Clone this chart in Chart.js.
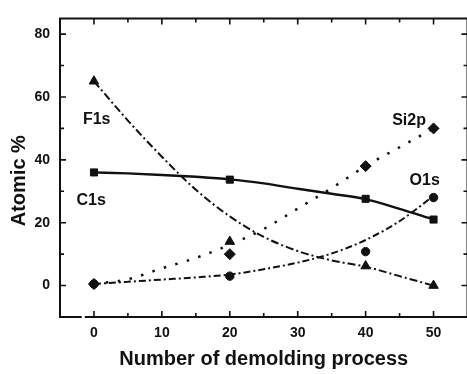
<!DOCTYPE html>
<html><head><meta charset="utf-8">
<script src="https://cdn.jsdelivr.net/npm/chart.js@4.4.1/dist/chart.umd.min.js"></script>
<style>
html,body{margin:0;padding:0;background:#fff;overflow:hidden;}
#wrap{width:467px;height:374px;overflow:hidden;position:relative;background:#fff;}
#wrap canvas{position:absolute;left:0;top:0;}
</style></head><body>
<div id="wrap"><canvas id="c" width="474" height="374" style="width:474px;height:374px"></canvas></div>
<script>
// measured points
const demoldingCounts = [0, 20, 40, 50];
const f1sValues  = [65, 14, 6.2, 0];
const c1sValues  = [36, 33.7, 27.6, 21];
const si2pValues = [0.5, 10, 38, 50];
const o1sValues  = [0.5, 3, 10.8, 28];

// fitted curves
const fitCounts = [0, 5, 10, 15, 20, 25, 30, 35, 40, 45, 50];
const f1sFit  = [65, 52.5, 41, 30.5, 22, 15.5, 11, 8, 6, 3, 0];
const c1sFit  = [36, 35.7, 35.2, 34.6, 33.8, 32.5, 30.8, 29.2, 27.5, 24.4, 21];
const si2pFit = [0.5, 2, 5.5, 8.8, 13, 18, 24.5, 31, 38, 44, 50];
const o1sFit  = [0.5, 1.2, 1.9, 2.6, 3.5, 5.2, 7.3, 10.2, 14.5, 20.5, 28.5];

// axes
const xTickValues  = [0, 10, 20, 30, 40, 50];
const xMinorValues = [5, 15, 25, 35, 45];
const yTickValues  = [0, 20, 40, 60, 80];
const yMinorValues = [10, 30, 50, 70];

// in-plot labels (data coordinates)
const seriesNames = ['F1s', 'C1s', 'Si2p', 'O1s'];
const labelX = [0.4, -0.4, 46.4, 48.7];
const labelY = [52.8, 26.9, 52.5, 33.3];

const FONT = "'Liberation Sans', Arial, Helvetica, sans-serif";
const INK = '#111';

function pts(xs, ys) { return xs.map((x, i) => ({x: x, y: ys[i]})); }

function fitDs(data, dash, width) {
  return { type: 'line', data: data, borderColor: INK, borderWidth: width || 2,
    borderDash: dash, pointRadius: 0, fill: false, cubicInterpolationMode: 'monotone', order: 2 };
}
function markDs(data, style, r) {
  return { type: 'scatter', data: data, showLine: false, pointStyle: style, pointRadius: r,
    pointHoverRadius: r, backgroundColor: INK, borderColor: INK, borderWidth: 1, order: 1 };
}

const framePlugin = {
  id: 'frame',
  afterDatasetsDraw(chart) {
    const {ctx, chartArea: a, scales: {x, y}} = chart;
    ctx.save();
    ctx.strokeStyle = INK;
    ctx.lineWidth = 2;
    ctx.lineCap = 'butt';
    ctx.beginPath();
    ctx.moveTo(a.left, a.bottom + 1); ctx.lineTo(a.left, a.top);
    ctx.lineTo(a.right, a.top); ctx.lineTo(a.right, a.bottom);
    const g1 = x.getPixelForValue(-1.8), g2 = x.getPixelForValue(-1.35);
    ctx.moveTo(a.left - 1, a.bottom); ctx.lineTo(g1, a.bottom);
    ctx.moveTo(g2, a.bottom); ctx.lineTo(a.right, a.bottom);
    ctx.stroke();
    ctx.lineWidth = 1.6;
    ctx.beginPath();
    const tick = (vals, len) => {
      vals.forEach(v => {
        const px = x.getPixelForValue(v);
        ctx.moveTo(px, a.bottom); ctx.lineTo(px, a.bottom - len);
        ctx.moveTo(px, a.top); ctx.lineTo(px, a.top + len);
      });
    };
    const ytick = (vals, len) => {
      vals.forEach(v => {
        const py = y.getPixelForValue(v);
        ctx.moveTo(a.left, py); ctx.lineTo(a.left + len, py);
        ctx.moveTo(a.right, py); ctx.lineTo(a.right - len, py);
      });
    };
    tick(xTickValues, 6); tick(xMinorValues, 4);
    ytick(yTickValues, 6); ytick(yMinorValues, 4);
    ctx.stroke();

    ctx.fillStyle = INK;
    ctx.font = 'bold 16px ' + FONT;
    ctx.textAlign = 'center';
    ctx.textBaseline = 'middle';
    seriesNames.forEach((n, i) => {
      ctx.fillText(n, x.getPixelForValue(labelX[i]), y.getPixelForValue(labelY[i]));
    });

    ctx.font = 'bold 20px ' + FONT;
    ctx.translate(a.left - 40.5, (a.top + a.bottom) / 2 + 13);
    ctx.rotate(-Math.PI / 2);
    ctx.fillText('Atomic %', 0, 0);
    ctx.restore();
  }
};

new Chart(document.getElementById('c'), {
  data: {
    datasets: [
      fitDs(pts(fitCounts, f1sFit), [8, 3, 2, 3], 2),
      fitDs(pts(fitCounts, c1sFit), [], 2.4),
      fitDs(pts(fitCounts, si2pFit), [2.5, 9.5], 2.5),
      fitDs(pts(fitCounts, o1sFit), [7, 3, 2, 3], 2),
      markDs(pts(demoldingCounts, f1sValues), 'triangle', 5.5),
      markDs(pts(demoldingCounts, c1sValues), 'rect', 5),
      markDs(pts(demoldingCounts, si2pValues), 'rectRot', 5.5),
      markDs(pts(demoldingCounts, o1sValues), 'circle', 4.2)
    ]
  },
  options: {
    responsive: false,
    animation: false,
    events: [],
    layout: { padding: { top: 8, right: 3, bottom: 0, left: 0 } },
    plugins: { legend: { display: false }, tooltip: { enabled: false } },
    scales: {
      x: {
        type: 'linear', min: -5, max: 55,
        grid: { display: false, drawTicks: false },
        border: { display: false },
        afterBuildTicks: s => { s.ticks = xTickValues.map(v => ({value: v})); },
        afterFit: s => { s.height = 57; },
        ticks: { color: INK, font: { family: FONT, size: 14, weight: 'bold' }, padding: 8, maxRotation: 0 },
        title: { display: true, text: 'Number of demolding process', color: INK,
          font: { family: FONT, size: 20, weight: 'bold' }, padding: { top: 0, bottom: 3 } }
      },
      y: {
        type: 'linear', min: -10, max: 85,
        grid: { display: false, drawTicks: false },
        border: { display: false },
        afterBuildTicks: s => { s.ticks = yTickValues.map(v => ({value: v})); },
        afterFit: s => { s.width = 60; },
        ticks: { color: INK, font: { family: FONT, size: 14, weight: 'bold' }, padding: 10 }
      }
    }
  },
  plugins: [framePlugin]
});
</script>
</body></html>
